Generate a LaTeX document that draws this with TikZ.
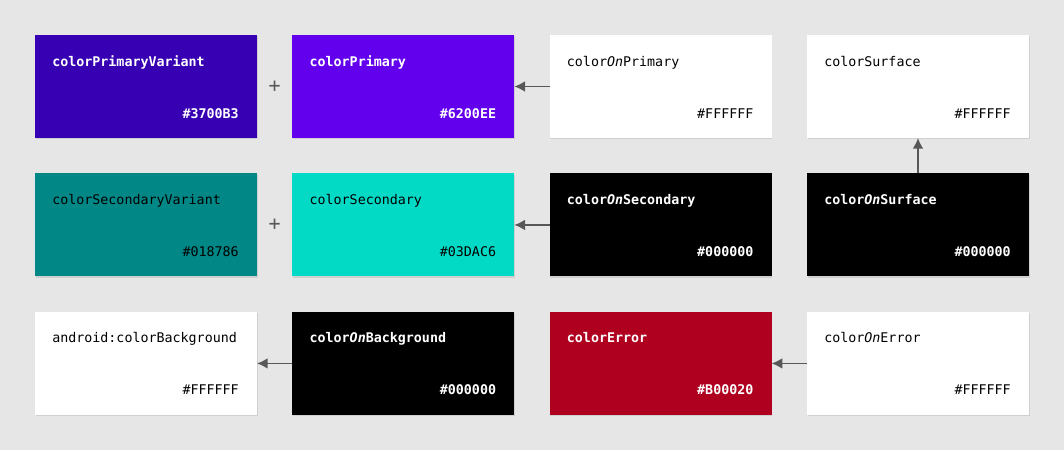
\documentclass[tikz,border=0pt]{standalone}
\usepackage{fontspec}
\usepackage{tikz}
\usetikzlibrary{positioning}
\usetikzlibrary{calc}
\usetikzlibrary{shadows}
\usetikzlibrary{arrows.meta}

\newfontfamily\codefont{DejaVu Sans Mono}

\definecolor{canvas}{HTML}{E6E6E6}
\definecolor{primvar}{HTML}{3700B3}
\definecolor{prim}{HTML}{6200EE}
\definecolor{secvar}{HTML}{018786}
\definecolor{sec}{HTML}{03DAC6}
\definecolor{err}{HTML}{B00020}
\definecolor{linkgray}{HTML}{585858}

\begin{document}
\begin{tikzpicture}[
    swatch/.style={fill=#1, minimum width=166.5pt, minimum height=77.25pt,
        inner sep=0pt, outer sep=0pt,
        drop shadow={shadow xshift=0.4pt, shadow yshift=-1pt, opacity=0.22}},
    node distance=26.6pt and 26.5pt,
    ink/.style={text=black, font=\codefont},
    inkw/.style={text=white, font=\codefont\bfseries},
    swname/.style={anchor=base west, inner sep=0pt},
    swhex/.style={anchor=base east, inner sep=0pt},
    link/.style={-{Latex[length=8pt, width=8pt]}, linkgray, line width=1.1pt},
    plus/.style={text=linkgray, font=\codefont\fontsize{15}{15}\selectfont, inner sep=0pt}
]
    \fill[canvas] (0,0) rectangle (798pt,-337.5pt);
    \useasboundingbox (0,0) rectangle (798pt,-337.5pt);

    % row 1
    \node[swatch=primvar, anchor=north west] (primaryvariant) at (26.25pt,-26.25pt) {};
    \node[swatch=prim, right=of primaryvariant] (primary) {};
    \node[swatch=white, right=of primary] (onprimary) {};
    \node[swatch=white, right=of onprimary] (surface) {};
    % row 2
    \node[swatch=secvar, below=of primaryvariant] (secondaryvariant) {};
    \node[swatch=sec, right=of secondaryvariant] (secondary) {};
    \node[swatch=black, right=of secondary] (onsecondary) {};
    \node[swatch=black, right=of onsecondary] (onsurface) {};
    % row 3
    \node[swatch=white, below=of secondaryvariant] (background) {};
    \node[swatch=black, right=of background] (onbackground) {};
    \node[swatch=err, right=of onbackground] (error) {};
    \node[swatch=white, right=of error] (onerror) {};

    \foreach \b/\t/\n/\h in {
        primaryvariant/inkw/colorPrimaryVariant/3700B3,
        primary/inkw/colorPrimary/6200EE,
        onprimary/ink/color\textit{On}Primary/FFFFFF,
        surface/ink/colorSurface/FFFFFF,
        secondaryvariant/ink/colorSecondaryVariant/018786,
        secondary/ink/colorSecondary/03DAC6,
        onsecondary/inkw/color\textit{On}Secondary/000000,
        onsurface/inkw/color\textit{On}Surface/000000,
        background/ink/android:colorBackground/FFFFFF,
        onbackground/inkw/color\textit{On}Background/000000,
        error/inkw/colorError/B00020,
        onerror/ink/color\textit{On}Error/FFFFFF} {
        \node[swname, \t] (\b-name) at ($(\b.north west)+(12.75pt,-23.25pt)$) {\n};
        \node[swhex, \t] (\b-hex) at ($(\b.south east)+(-13.5pt,15pt)$) {\#\h};
    }

    \node[plus] (plus1) at ($(primaryvariant.east)!0.5!(primary.west)$) {+};
    \node[plus] (plus2) at ($(secondaryvariant.east)!0.5!(secondary.west)$) {+};

    \draw[link] (onprimary.west) -- (primary.east);
    \draw[link] (onsecondary.west) -- (secondary.east);
    \draw[link] (onsurface.north) -- (surface.south);
    \draw[link] (onbackground.west) -- (background.east);
    \draw[link] (onerror.west) -- (error.east);
\end{tikzpicture}
\end{document}
